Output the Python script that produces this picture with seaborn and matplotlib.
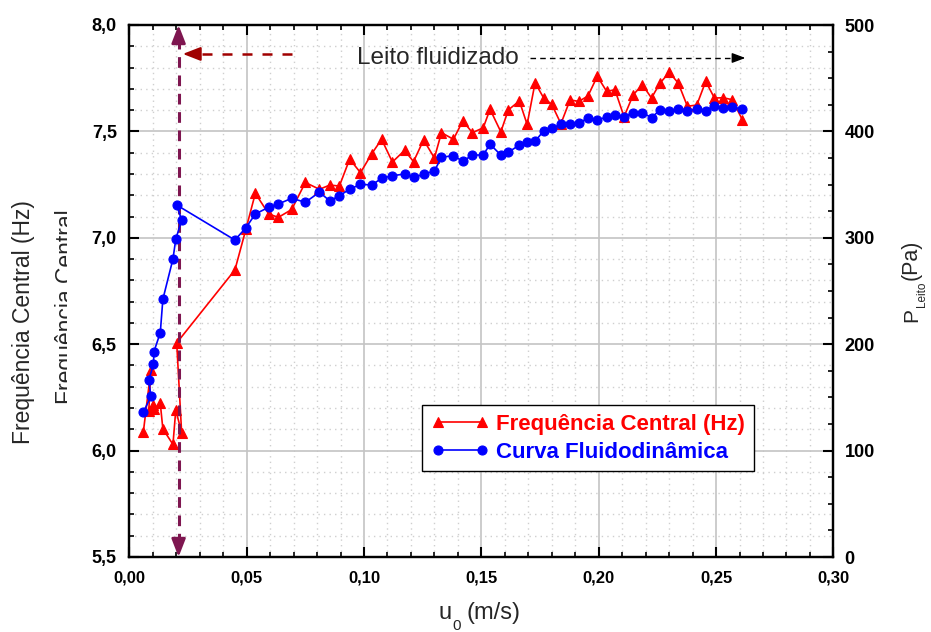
import numpy as np
import pandas as pd
import matplotlib
matplotlib.use("Agg")
import matplotlib.pyplot as plt
import seaborn as sns
from matplotlib.ticker import MultipleLocator, FixedLocator, FixedFormatter
from matplotlib.transforms import Bbox

# ---------------- data ----------------
u0 = [0.0060, 0.0092, 0.0083, 0.0103, 0.0105, 0.0132, 0.0143, 0.0186, 0.0198, 0.0223, 0.0202,
      0.0450, 0.0497, 0.0537, 0.0594, 0.0635, 0.0692, 0.0750, 0.0810, 0.0855, 0.0895,
      0.0939, 0.0985, 0.1033, 0.1075, 0.1121, 0.1173, 0.1211, 0.1254, 0.1300, 0.1330,
      0.1381, 0.1421, 0.1462, 0.1508, 0.1537, 0.1583, 0.1615, 0.1662, 0.1695, 0.1729,
      0.1765, 0.1800, 0.1839, 0.1878, 0.1915, 0.1954, 0.1994, 0.2034, 0.2069, 0.2108,
      0.2147, 0.2186, 0.2225, 0.2261, 0.2301, 0.2339, 0.2378, 0.2418, 0.2456, 0.2493,
      0.2531, 0.2569, 0.2612]

freq_central = [6.089, 6.379, 6.186, 6.214, 6.195, 6.222, 6.102, 6.029, 6.191, 6.084, 6.506,
                6.849, 7.041, 7.209, 7.112, 7.096, 7.133, 7.260, 7.228, 7.248, 7.243,
                7.370, 7.306, 7.395, 7.463, 7.356, 7.411, 7.358, 7.460, 7.375, 7.494,
                7.463, 7.549, 7.494, 7.517, 7.604, 7.498, 7.601, 7.643, 7.533, 7.729,
                7.658, 7.627, 7.536, 7.648, 7.641, 7.666, 7.759, 7.688, 7.696, 7.569,
                7.672, 7.719, 7.657, 7.727, 7.777, 7.727, 7.618, 7.624, 7.735, 7.657,
                7.658, 7.649, 7.555]

p_leito = [136.0, 151.0, 166.1, 181.1, 193.0, 210.8, 242.2, 280.1, 298.6, 316.7, 330.8,
           297.9, 309.5, 322.4, 328.7, 331.8, 337.1, 333.4, 342.8, 334.6, 339.6,
           345.6, 350.3, 349.6, 355.9, 358.3, 360.0, 356.7, 359.7, 362.8, 375.7,
           377.2, 371.9, 377.8, 377.8, 388.0, 377.8, 380.4, 387.2, 390.2, 390.7,
           400.4, 402.9, 406.7, 406.7, 407.9, 412.3, 410.7, 413.5, 415.0, 413.8,
           417.6, 417.6, 412.9, 420.1, 419.5, 421.1, 419.5, 420.8, 419.5, 423.9,
           422.3, 422.6, 421.1]

x_ticks = [0.00, 0.05, 0.10, 0.15, 0.20, 0.25, 0.30]
x_tick_labels = ["0,00", "0,05", "0,10", "0,15", "0,20", "0,25", "0,30"]
f_ticks = [5.5, 6.0, 6.5, 7.0, 7.5, 8.0]
f_tick_labels = ["5,5", "6,0", "6,5", "7,0", "7,5", "8,0"]
p_ticks = [0, 100, 200, 300, 400, 500]
p_tick_labels = ["0", "100", "200", "300", "400", "500"]

label_freq = "Frequência Central (Hz)"
label_curve = "Curva Fluidodinâmica"
u_mf = 0.021  # vertical marker position

# ---------------- style ----------------
sns.set_theme(style="white")
plt.rcParams["font.family"] = ["Liberation Sans", "DejaVu Sans"]

W, H = 931, 632
fig = plt.figure(figsize=(W / 100, H / 100), dpi=100)
fig.patch.set_facecolor("white")
L, R, T, B = 129.3, 833.4, 25.0, 557.0
ax = fig.add_axes([L / W, 1 - B / H, (R - L) / W, (B - T) / H])
ax2 = ax.twinx()

df = pd.DataFrame({"u0": u0, "freq": freq_central, "p": p_leito})

sns.lineplot(data=df, x="u0", y="freq", ax=ax, sort=False, estimator=None,
             color="#FF0000", marker="^", markersize=7.5, markeredgecolor="#FF0000",
             markeredgewidth=0.8, linewidth=1.2, label=label_freq, legend=False)
sns.lineplot(data=df, x="u0", y="p", ax=ax2, sort=False, estimator=None,
             color="#0000FF", marker="o", markersize=6.5, markeredgecolor="#0000FF",
             markeredgewidth=0.8, linewidth=1.2, label=label_curve, legend=False)

# axes limits / ticks
ax.set_xlim(0, 0.30)
ax.set_ylim(5.5, 8.0)
ax2.set_ylim(0, 500)

ax.xaxis.set_major_locator(FixedLocator(x_ticks))
ax.xaxis.set_major_formatter(FixedFormatter(x_tick_labels))
ax.xaxis.set_minor_locator(MultipleLocator(0.01))
ax.yaxis.set_major_locator(FixedLocator(f_ticks))
ax.yaxis.set_major_formatter(FixedFormatter(f_tick_labels))
ax.yaxis.set_minor_locator(MultipleLocator(0.1))
ax2.yaxis.set_major_locator(FixedLocator(p_ticks))
ax2.yaxis.set_major_formatter(FixedFormatter(p_tick_labels))
ax2.yaxis.set_minor_locator(MultipleLocator(25))

ax.grid(which="major", color="#C4C4C4", linewidth=1.2, linestyle="-")
ax.grid(which="minor", color="#CFCFCF", linewidth=1.0, linestyle=(0, (1, 3)))
ax.set_axisbelow(True)
ax2.grid(False)

for a in (ax, ax2):
    for s in a.spines.values():
        s.set_color("black")
        s.set_linewidth(1.6)

ax.tick_params(axis="x", which="both", direction="in", top=True, bottom=True, color="black")
ax.tick_params(axis="y", which="both", direction="in", left=True, right=False, color="black")
ax.tick_params(which="major", length=7, width=1.5)
ax.tick_params(which="minor", length=3.5, width=1.2)
ax.tick_params(axis="x", which="major", pad=10)
ax.tick_params(axis="y", which="major", pad=9)
ax2.tick_params(axis="y", which="both", direction="in", right=True, left=False, color="black")
ax2.tick_params(which="major", length=7, width=1.5, pad=8)
ax2.tick_params(which="minor", length=3.5, width=1.2)

for lab in ax.get_xticklabels():
    lab.set_fontweight("bold")
    lab.set_fontsize(12)
    lab.set_color("black")
for lab in ax.get_yticklabels() + ax2.get_yticklabels():
    lab.set_fontweight("bold")
    lab.set_fontsize(13)
    lab.set_color("black")

ax.set_xlabel("")
ax.set_ylabel("")
ax2.set_ylabel("")


def px(x, y):
    """pixel (from top-left) -> figure fraction"""
    return x / W, 1 - y / H


# left axis title + clipped duplicate behind it
fig.text(*px(24, 322), label_freq, rotation=90, ha="center", va="center", fontsize=16.5)
ghost = fig.text(*px(66, 307), "Frequência Central", rotation=90, ha="center",
                 va="center", fontsize=16.5)
ghost.set_clip_box(Bbox([[0, 0], [66.5, H]]))
ghost.set_clip_on(True)

# right axis title: P_Leito (Pa)
fig.text(*px(917, 322), "P", rotation=90, rotation_mode="anchor", ha="left",
         va="baseline", fontsize=15)
fig.text(*px(925, 307), "Leito", rotation=90, rotation_mode="anchor", ha="left",
         va="baseline", fontsize=8.5)
fig.text(*px(917, 280), "(Pa)", rotation=90, rotation_mode="anchor", ha="left",
         va="baseline", fontsize=15.5)

# bottom axis title: u0 (m/s)
fig.text(*px(439, 619), "u", ha="left", va="baseline", fontsize=17)
fig.text(*px(452, 630), "0", ha="left", va="baseline", fontsize=11)
fig.text(*px(467, 619), "(m/s)", ha="left", va="baseline", fontsize=17)

# vertical dashed marker with arrowheads
pc = "#7E1650"
ax.plot([u_mf, u_mf], [5.56, 7.94], color=pc, linewidth=2.2, linestyle=(0, (3.5, 2.5)),
        zorder=6, clip_on=False)
ax.annotate("", xy=(u_mf, 8.0), xytext=(u_mf, 7.93),
            arrowprops=dict(arrowstyle="-|>,head_length=0.9,head_width=0.35", color=pc,
                            lw=2, shrinkA=0, shrinkB=0, mutation_scale=12), zorder=6)
ax.annotate("", xy=(u_mf, 5.5), xytext=(u_mf, 5.57),
            arrowprops=dict(arrowstyle="-|>,head_length=0.9,head_width=0.35", color=pc,
                            lw=2, shrinkA=0, shrinkB=0, mutation_scale=12), zorder=6)

# top annotations
rc = "#A00000"
ax.plot([0.0693, 0.0265], [7.864, 7.864], color=rc, linewidth=1.8, linestyle=(0, (4, 4)), zorder=6)
ax.annotate("", xy=(0.0228, 7.864), xytext=(0.0275, 7.864),
            arrowprops=dict(arrowstyle="-|>,head_length=0.9,head_width=0.35", color=rc,
                            lw=1.5, shrinkA=0, shrinkB=0, mutation_scale=12), zorder=6)
ax.text(0.1316, 7.845, "Leito fluidizado", ha="center", va="center", fontsize=17.5, zorder=6)
ax.plot([0.1707, 0.2595], [7.845, 7.845], color="black", linewidth=1.0, linestyle=(0, (4, 3)), zorder=6)
ax.annotate("", xy=(0.2625, 7.845), xytext=(0.2585, 7.845),
            arrowprops=dict(arrowstyle="-|>,head_length=0.8,head_width=0.3", color="black",
                            lw=1.0, shrinkA=0, shrinkB=0, mutation_scale=10), zorder=6)

# legend
h1, l1 = ax.get_legend_handles_labels()
h2, l2 = ax2.get_legend_handles_labels()
leg = ax2.legend(h1 + h2, l1 + l2, loc="upper left",
                 bbox_to_anchor=px(422, 405), bbox_transform=fig.transFigure,
                 borderaxespad=0, frameon=True, fancybox=False, edgecolor="black",
                 framealpha=1, numpoints=2, handlelength=2.6, handletextpad=0.35,
                 borderpad=0.4, labelspacing=0.3,
                 prop={"weight": "bold", "size": 16})
leg.get_frame().set_linewidth(1.0)
for txt, col in zip(leg.get_texts(), ["#FF0000", "#0000FF"]):
    txt.set_color(col)

fig.savefig("out.png", dpi=100, facecolor="white")
